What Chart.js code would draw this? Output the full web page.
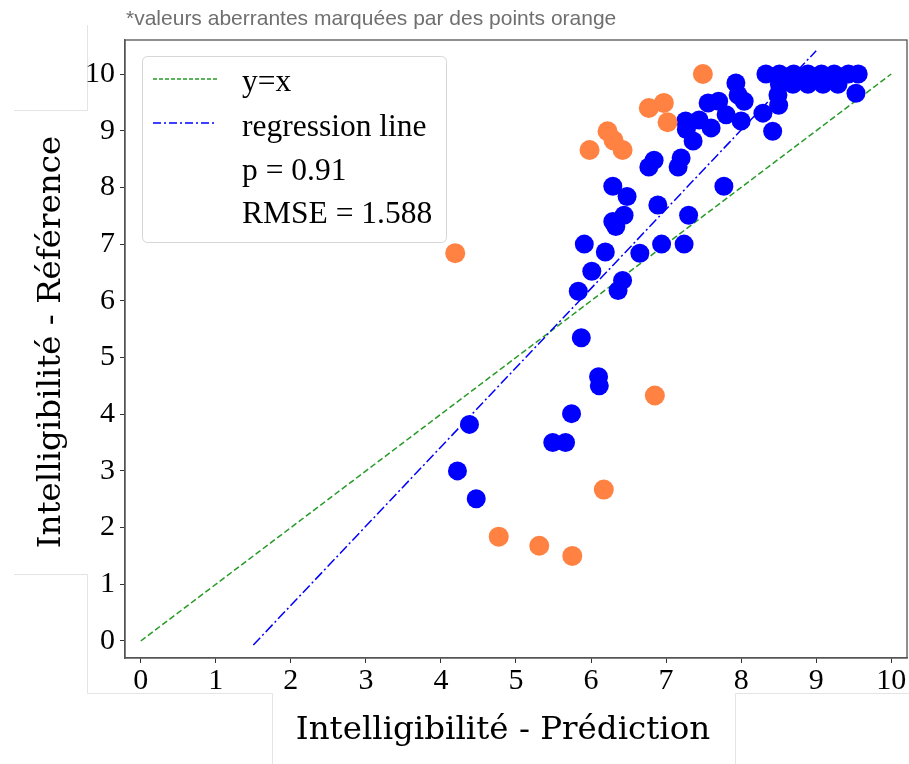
<!DOCTYPE html>
<html>
<head>
<meta charset="utf-8">
<script src="https://cdn.jsdelivr.net/npm/chart.js@4.4.1/dist/chart.umd.min.js"></script>
<style>
  html, body { margin: 0; padding: 0; background: #fff; overflow: hidden; }
  #wrap { width: 909px; height: 764px; position: relative; }
</style>
</head>
<body>
<div id="wrap"><canvas id="scatter-chart"></canvas></div>
<script>
// Points
const blueX = [4.22, 4.38, 4.47, 5.49, 5.66, 5.74, 6.10, 6.11, 5.87, 5.83,
  6.01, 5.91, 6.19, 6.36, 6.42, 6.29, 6.33, 6.44, 6.29, 6.48,
  6.65, 6.94, 7.24, 6.89, 7.30, 6.77, 6.84, 7.16, 7.20, 7.77,
  7.36, 7.26, 7.44, 7.60, 7.27, 7.56, 7.70, 7.80, 8.00, 8.04,
  7.93, 7.96, 8.29, 8.42, 8.50, 8.49, 9.53,
  8.33, 8.51, 8.70, 8.89, 9.07, 9.24, 9.43, 9.56,
  8.51, 8.69, 8.89, 9.09, 9.29];
const blueY = [3.00, 3.82, 2.51, 3.50, 3.50, 4.01, 4.66, 4.50, 5.35, 6.17,
  6.52, 7.00, 6.86, 6.18, 6.36, 7.40, 7.31, 7.51, 8.02, 7.84,
  6.84, 7.00, 7.00, 7.69, 7.51, 8.36, 8.48, 8.36, 8.52, 8.02,
  8.82, 9.17, 9.19, 9.05, 9.02, 9.49, 9.52, 9.28, 9.17, 9.52,
  9.84, 9.63, 9.31, 8.99, 9.45, 9.63, 9.66,
  10.0, 10.0, 10.0, 10.0, 10.0, 10.0, 10.0, 10.0,
  9.82, 9.82, 9.82, 9.82, 9.82];

// Outliers (orange)
const orangeX = [4.19, 4.77, 5.31, 5.75, 6.17, 6.85, 5.98, 6.22, 6.30, 6.42, 6.77, 6.97, 7.02, 7.49];
const orangeY = [6.84, 1.84, 1.68, 1.50, 2.67, 4.33, 8.66, 8.99, 8.83, 8.66, 9.40, 9.49, 9.15, 10.0];

// Reference lines
const identityX = [0, 10];
const identityY = [0, 10];
const regressionX = [1.5, 9.0];
const regressionY = [-0.07, 10.41];

const tickValues = [0, 1, 2, 3, 4, 5, 6, 7, 8, 9, 10];

const legendLabels = ['y=x', 'regression line', 'p = 0.91', 'RMSE = 1.588'];
const subtitleText = '*valeurs aberrantes marquées par des points orange';
const xTitle = 'Intelligibilité - Prédiction';
const yTitle = 'Intelligibilité - Référence';

const GREEN = '#279a27';
const BLUE = '#0000ff';
const ORANGE = '#ff8243';

// where the plot frame should end on the right
const FRAME_RIGHT = 907;

function toPoints(xs, ys) {
  return xs.map((x, i) => ({ x: x, y: ys[i] }));
}

// faint panel edges + white background
const backgroundPlugin = {
  id: 'background',
  beforeDraw(chart) {
    const ctx = chart.ctx;
    ctx.save();
    ctx.fillStyle = '#fff';
    ctx.fillRect(0, 0, chart.width, chart.height);
    ctx.strokeStyle = '#e4e4e4';
    ctx.lineWidth = 1;
    ctx.beginPath();
    ctx.moveTo(87.5, 25); ctx.lineTo(87.5, 110.5); ctx.lineTo(14, 110.5);
    ctx.moveTo(14, 574.5); ctx.lineTo(87.5, 574.5); ctx.lineTo(87.5, 693.5);
    ctx.lineTo(272.5, 693.5); ctx.lineTo(272.5, 764);
    ctx.moveTo(735.5, 764); ctx.lineTo(735.5, 693.5); ctx.lineTo(909, 693.5);
    ctx.stroke();
    ctx.restore();
  }
};

// frame, titles, legend
const decorPlugin = {
  id: 'decor',
  afterDraw(chart) {
    const ctx = chart.ctx;
    const a = chart.chartArea;
    ctx.save();

    // full frame
    ctx.strokeStyle = '#555';
    ctx.lineWidth = 1.3;
    ctx.strokeRect(a.left, a.top, a.right - a.left, a.bottom - a.top);

    // subtitle
    ctx.fillStyle = '#6f6f6f';
    ctx.font = '21px "Liberation Sans", Arial, sans-serif';
    ctx.textAlign = 'left';
    ctx.textBaseline = 'alphabetic';
    ctx.fillText(subtitleText, 126, 25);

    // axis titles
    ctx.fillStyle = '#000';
    ctx.font = '32.5px "DejaVu Serif", serif';
    ctx.textAlign = 'center';
    ctx.textBaseline = 'middle';
    ctx.fillText(xTitle, 503, 731);
    ctx.translate(52, 342);
    ctx.rotate(-Math.PI / 2);
    ctx.fillText(yTitle, 0, 0);
    ctx.setTransform(1, 0, 0, 1, 0, 0);

    // legend box
    const bx = 142, by = 56, bw = 304, bh = 186;
    ctx.fillStyle = 'rgba(255,255,255,0.85)';
    ctx.strokeStyle = '#d6d6d6';
    ctx.lineWidth = 1;
    ctx.beginPath();
    ctx.roundRect(bx + 0.5, by + 0.5, bw, bh, 5);
    ctx.fill();
    ctx.stroke();

    ctx.lineWidth = 1.5;
    ctx.strokeStyle = GREEN;
    ctx.setLineDash([4, 2]);
    ctx.beginPath(); ctx.moveTo(153, 79); ctx.lineTo(217, 79); ctx.stroke();
    ctx.strokeStyle = BLUE;
    ctx.setLineDash([8, 3, 2, 3]);
    ctx.beginPath(); ctx.moveTo(153, 123); ctx.lineTo(217, 123); ctx.stroke();
    ctx.setLineDash([]);

    ctx.fillStyle = '#000';
    ctx.font = '31.5px "Liberation Serif", "Times New Roman", serif';
    ctx.textAlign = 'left';
    ctx.textBaseline = 'alphabetic';
    const baselines = [91, 136, 180, 223];
    legendLabels.forEach((t, i) => ctx.fillText(t, 242, baselines[i]));

    ctx.restore();
  }
};

const tickFont = { family: '"Liberation Serif", "Times New Roman", serif', size: 30 };

const canvas = document.getElementById('scatter-chart');
const chart = new Chart(canvas, {
  type: 'scatter',
  data: {
    datasets: [
      {
        label: 'blue',
        data: toPoints(blueX, blueY),
        backgroundColor: BLUE,
        borderWidth: 0,
        pointRadius: 9.5,
        order: 1
      },
      {
        label: 'orange',
        data: toPoints(orangeX, orangeY),
        backgroundColor: ORANGE,
        borderWidth: 0,
        pointRadius: 10,
        order: 0
      },
      {
        type: 'line',
        label: 'y=x',
        data: toPoints(identityX, identityY),
        borderColor: GREEN,
        borderWidth: 1.5,
        borderDash: [6, 3],
        pointRadius: 0,
        fill: false,
        order: 3
      },
      {
        type: 'line',
        label: 'regression line',
        data: toPoints(regressionX, regressionY),
        borderColor: BLUE,
        borderWidth: 1.5,
        borderDash: [10, 3, 2, 3],
        pointRadius: 0,
        fill: false,
        order: 2
      }
    ]
  },
  options: {
    responsive: true,
    maintainAspectRatio: false,
    animation: false,
    layout: { padding: { top: 40, right: 2, left: 0, bottom: 0 } },
    plugins: {
      legend: { display: false },
      tooltip: { enabled: false }
    },
    scales: {
      x: {
        type: 'linear',
        min: -0.21,
        max: 10.21,
        afterFit: s => { s.height = 106; s.paddingLeft = 0; s.paddingRight = 0; },
        afterBuildTicks: s => { s.ticks = tickValues.map(v => ({ value: v })); },
        grid: { display: true, drawOnChartArea: false, drawTicks: true, tickLength: 5, color: '#333' },
        border: { display: true, color: '#555', width: 1.3 },
        ticks: { color: '#000', font: tickFont, padding: 0, maxRotation: 0 }
      },
      y: {
        type: 'linear',
        min: -0.3,
        max: 10.6,
        afterFit: s => { s.width = 125; },
        afterBuildTicks: s => { s.ticks = tickValues.map(v => ({ value: v })); },
        grid: { display: true, drawOnChartArea: false, drawTicks: true, tickLength: 5, color: '#333' },
        border: { display: true, color: '#555', width: 1.3 },
        ticks: { color: '#000', font: tickFont, padding: 5 }
      }
    }
  },
  plugins: [backgroundPlugin, decorPlugin]
});

// Chart.js keeps some right padding of its own; widen the canvas past the
// window edge until the frame lands where the reference has it
const wrap = document.getElementById('wrap');
for (let i = 0; i < 4; i++) {
  const diff = Math.round(FRAME_RIGHT - chart.chartArea.right);
  if (diff === 0) break;
  wrap.style.width = (wrap.offsetWidth + diff) + 'px';
  chart.resize();
}
</script>
</body>
</html>
